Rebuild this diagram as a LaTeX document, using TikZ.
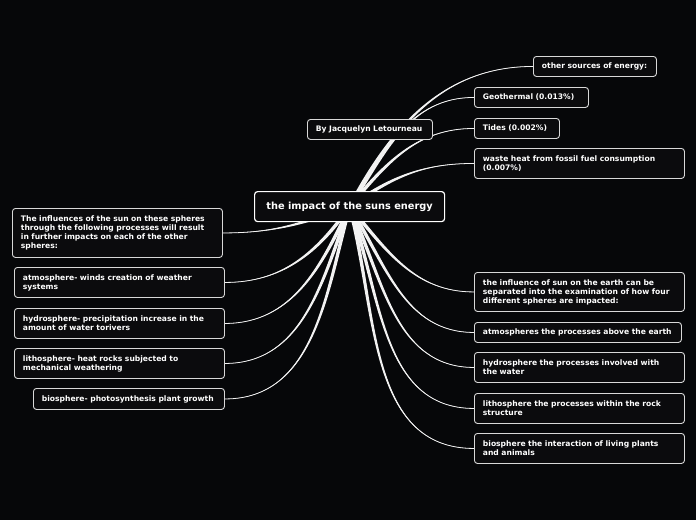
\documentclass[tikz,border=0pt]{standalone}
\usepackage{fontspec}
\setmainfont{DejaVu Sans}
\usetikzlibrary{calc,backgrounds}
\definecolor{bgc}{HTML}{060709}
\definecolor{boxc}{HTML}{0B0B0D}
\definecolor{edgec}{HTML}{D8D8D8}
\definecolor{linkc}{HTML}{F2F2F2}
\newcommand\nohyph{\hyphenpenalty=10000\relax\exhyphenpenalty=10000\relax}
\newcommand\conn[4]{%
  \fill[linkc] ($(#1)+(#3+90:1.8pt)$) to[out=#3,in=#4] (#2) to[out=#4,in=#3] ($(#1)+(#3-90:1.8pt)$) -- cycle;
  \draw[linkc,line width=0.8pt] (#1) to[out=#3,in=#4] (#2);}
\tikzset{
  topic/.style={draw=edgec, line width=0.9pt, fill=boxc, rounded corners=3pt, text=white,
    font=\bfseries\fontsize{7.6}{9}\selectfont\nohyph,
    align=left, inner xsep=8.5pt, inner ysep=0pt, anchor=north west},
  central/.style={draw=white, line width=1.2pt, fill=boxc, rounded corners=3pt, text=white,
    font=\bfseries\fontsize{9.8}{11}\selectfont, minimum width=190pt, minimum height=30pt,
    inner sep=0pt, anchor=north west},
}
\begin{document}
\begin{tikzpicture}[x=1pt,y=1pt]
\useasboundingbox (0,0) rectangle (696,-520);
% central
\node[central] (hub) at (254,-191) {the impact of the suns energy};
\node[topic, text width=108pt, minimum height=20pt] (by) at (307,-119) {By Jacquelyn Letourneau};
% right upper
\node[topic, text width=106pt, minimum height=20pt] (other) at (533,-56) {other sources of energy:};
\node[topic, text width=97pt, minimum height=20pt] (geo) at (474,-87) {Geothermal (0.013\%)};
\node[topic, text width=68pt, minimum height=20pt] (tides) at (474,-118) {Tides (0.002\%)};
\node[topic, text width=193pt, minimum height=30pt] (waste) at (474,-148) {waste heat from fossil fuel consumption (0.007\%)};
% right lower
\node[topic, text width=193pt, minimum height=39pt] (infl) at (474,-272) {the influence of sun on the earth can be separated into the examination of how four different spheres are impacted:};
\node[topic, text width=190pt, minimum height=20pt] (atm) at (474,-322) {atmospheres the processes above the earth};
\node[topic, text width=193pt, minimum height=30pt] (hyd) at (474,-352) {hydrosphere the processes involved with the water};
\node[topic, text width=193pt, minimum height=30pt] (lith) at (474,-393) {lithosphere the processes within the rock structure};
\node[topic, text width=193pt, minimum height=30pt] (bio) at (474,-433) {biosphere the interaction of living plants and animals};
% left
\node[topic, text width=193pt, minimum height=49pt] (linfl) at (12,-208) {The influences of the sun on these spheres through the following processes will result in further impacts on each of the other spheres:};
\node[topic, text width=193pt, minimum height=30pt] (latm) at (14,-267) {atmosphere- winds creation of weather systems};
\node[topic, text width=193pt, minimum height=30pt] (lhyd) at (14,-308) {hydrosphere- precipitation increase in the amount of water torivers};
\node[topic, text width=193pt, minimum height=30pt] (llith) at (14,-348) {lithosphere- heat rocks subjected to mechanical weathering};
\node[topic, text width=174pt, minimum height=21pt] (lbio) at (33,-388) {biosphere- photosynthesis plant growth};
\coordinate (c) at (hub.center);
\begin{pgfonlayer}{background}
\fill[bgc] (0,0) rectangle (696,-520);
\conn{c}{other.west}{62}{180}
\conn{c}{geo.west}{57}{180}
\conn{c}{tides.west}{50}{180}
\conn{c}{waste.west}{35}{180}
\conn{c}{infl.west}{-50}{180}
\conn{c}{atm.west}{-58}{180}
\conn{c}{hyd.west}{-65}{180}
\conn{c}{lith.west}{-70}{180}
\conn{c}{bio.west}{-75}{180}
\conn{c}{linfl.east}{200}{0}
\conn{c}{latm.east}{235}{0}
\conn{c}{lhyd.east}{245}{0}
\conn{c}{llith.east}{250}{0}
\conn{c}{lbio.east}{255}{0}
\end{pgfonlayer}
\end{tikzpicture}
\end{document}
